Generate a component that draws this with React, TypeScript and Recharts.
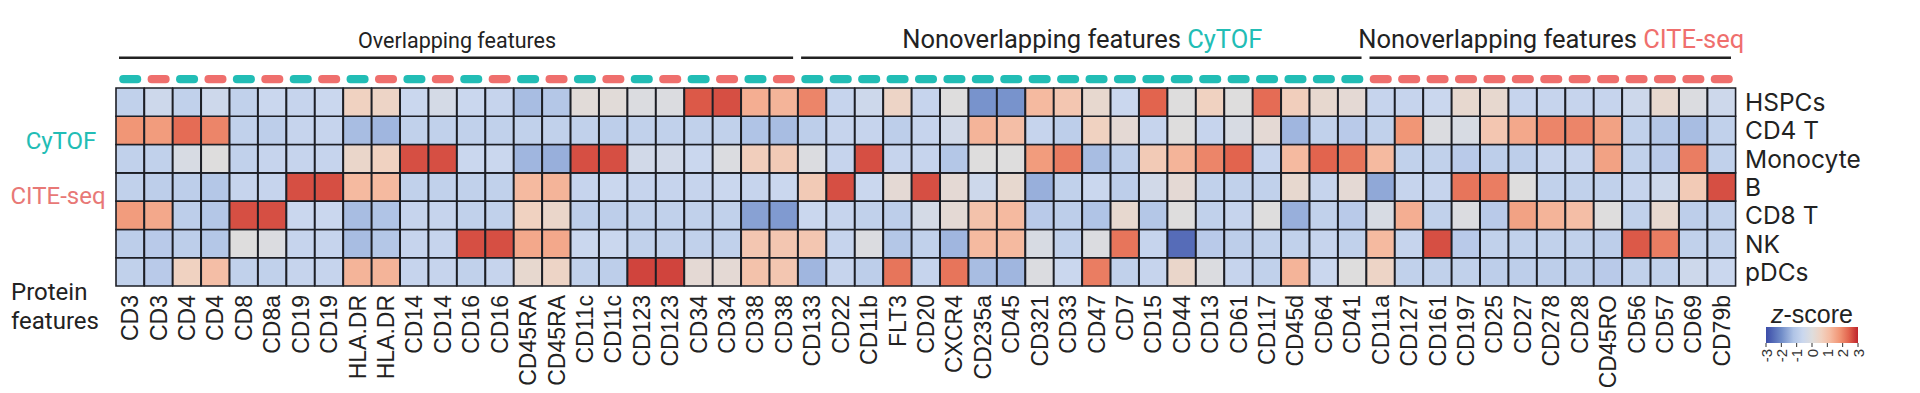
import React from 'react';
import { BarChart, Bar, XAxis, YAxis, Cell, ReferenceArea, Legend } from 'recharts';

// ---------- data ----------
const features = ['CD3','CD3','CD4','CD4','CD8','CD8a','CD19','CD19','HLA.DR','HLA.DR','CD14','CD14','CD16','CD16','CD45RA','CD45RA','CD11c','CD11c','CD123','CD123','CD34','CD34','CD38','CD38',
  'CD133','CD22','CD11b','FLT3','CD20','CXCR4','CD235a','CD45','CD321','CD33','CD47','CD7','CD15','CD44','CD13','CD61','CD117','CD45d','CD64','CD41',
  'CD11a','CD127','CD161','CD197','CD25','CD27','CD278','CD28','CD45RO','CD56','CD57','CD69','CD79b'];

const sources = [
  'CyTOF','CITE-seq','CyTOF','CITE-seq','CyTOF','CITE-seq','CyTOF','CITE-seq','CyTOF','CITE-seq','CyTOF','CITE-seq',
  'CyTOF','CITE-seq','CyTOF','CITE-seq','CyTOF','CITE-seq','CyTOF','CITE-seq','CyTOF','CITE-seq','CyTOF','CITE-seq',
  'CyTOF','CyTOF','CyTOF','CyTOF','CyTOF','CyTOF','CyTOF','CyTOF','CyTOF','CyTOF','CyTOF','CyTOF','CyTOF','CyTOF','CyTOF','CyTOF','CyTOF','CyTOF','CyTOF','CyTOF',
  'CITE-seq','CITE-seq','CITE-seq','CITE-seq','CITE-seq','CITE-seq','CITE-seq','CITE-seq','CITE-seq','CITE-seq','CITE-seq','CITE-seq','CITE-seq'];

const rowLabels = ['HSPCs', 'CD4 T', 'Monocyte', 'B', 'CD8 T', 'NK', 'pDCs'];

const hspcs = [-0.8,-0.5,-0.8,-0.5,-0.8,-0.6,-0.7,-0.6,0.6,0.5, -0.6,-0.3,-0.6,-0.7,-1.3,-1.1,0.1,0.1,-0.1,-0.1, 2.5,2.6,1.4,1.3,2.0,-0.7,-0.5,0.5,-0.7,0.0, -1.9,-1.9,1.2,0.9,0.3,-0.6,2.4,0.0,0.6,0.0, 2.3,0.7,0.3,0.2,-0.7,-0.7,-0.6,0.3,0.3,-0.7, -0.7,-0.7,-0.7,-0.5,0.3,-0.1,-0.5];
const cd4t = [1.8,1.7,2.3,2.0,-0.8,-0.9,-0.7,-0.7,-1.3,-1.4, -0.8,-0.8,-0.8,-0.8,-0.8,-0.8,-0.8,-0.9,-0.8,-0.8, -0.8,-0.8,-1.2,-1.3,-0.9,-0.7,-0.7,-0.9,-0.7,-0.4, 1.3,1.1,-0.7,-0.9,0.6,0.2,-0.7,0.0,-0.7,-0.2, 0.2,-1.4,-0.8,-1.0,-0.8,1.8,-0.1,-0.2,0.9,1.5, 2.0,2.0,1.6,-0.8,-1.1,-1.3,-0.8];
const monocyte = [-0.8,-0.8,-0.2,0.0,-0.8,-0.7,-0.7,-0.7,0.4,0.6, 2.6,2.6,-0.6,-0.6,-1.4,-1.5,2.6,2.6,-0.4,-0.4, -0.6,-0.1,0.7,0.8,-0.1,-0.7,2.6,-0.7,-0.7,-1.1, 0.0,0.0,1.7,2.1,-1.3,-0.9,0.8,1.3,2.0,2.4, -0.7,1.2,2.4,2.2,1.2,-0.8,-0.8,-1.0,-0.9,-0.9, -0.7,-0.7,1.6,-0.8,-1.0,2.1,-0.8];
const bCells = [-0.8,-0.9,-0.9,-1.1,-0.7,-0.7,2.6,2.6,1.2,1.2, -0.8,-0.8,-0.8,-0.8,1.2,1.3,-0.7,-0.6,-0.7,-0.7, -0.7,-0.6,-0.7,-0.6,0.8,2.6,-0.6,0.2,2.6,0.2, -0.5,0.3,-1.5,-0.8,-0.6,-0.9,-0.4,0.2,-0.8,-0.8, -0.8,0.3,-0.7,0.2,-1.6,-0.7,-0.7,2.2,2.1,0.0, -0.8,-0.8,-0.8,-0.7,-0.5,0.8,2.6];
const cd8t = [1.7,1.5,-0.9,-1.1,2.6,2.6,-0.6,-0.6,-1.3,-1.2, -0.7,-0.7,-0.8,-0.8,0.6,0.4,-0.9,-0.9,-0.8,-0.8, -0.8,-0.8,-1.7,-1.8,-0.6,-0.7,-0.8,-0.9,-0.3,0.2, 1.0,1.2,-1.0,-0.9,-1.2,0.3,-1.1,0.0,-0.8,-0.7, 0.0,-1.5,-0.8,-1.0,-0.2,1.4,-0.8,-0.1,-1.0,1.6, 1.3,1.1,0.0,-0.8,0.3,-0.9,-0.8];
const nk = [-0.9,-1.0,-0.9,-1.1,0.0,-0.1,-0.7,-0.7,-1.3,-1.1, -0.7,-0.7,2.6,2.6,1.5,1.5,-0.6,-0.6,-0.8,-0.8, -0.8,-0.8,0.9,0.9,0.9,-0.7,-0.1,-1.1,-0.8,-1.4, 1.2,1.2,-0.2,-0.8,-0.1,2.2,-0.7,-2.5,-1.0,-0.9, -0.8,-0.8,-0.7,-0.8,1.2,-0.7,2.6,-1.0,-0.8,-0.8, -0.8,-0.8,-0.9,2.5,2.1,-0.8,-0.8];
const pdcs = [-0.8,-1.0,0.6,1.1,-0.8,-0.8,-0.7,-0.7,1.3,1.3, -0.7,-0.7,-0.8,-0.7,0.3,0.5,-0.8,-0.9,2.7,2.7, 0.2,0.2,1.0,0.9,-1.4,-0.7,-0.9,2.2,-0.7,2.2, -1.3,-1.4,-0.1,-0.6,2.1,-0.8,-0.7,0.4,-0.1,-0.7, -0.8,1.3,-0.6,0.0,0.5,-0.8,-0.8,-0.8,-0.9,-0.9, -0.9,-0.9,-1.0,-0.8,-0.8,-0.5,-0.6];

const groupTitles = ['Overlapping features', 'Nonoverlapping features ', 'Nonoverlapping features '];
const groupHighlights = ['', 'CyTOF', 'CITE-seq'];
const groupStart = [0, 24, 44];
const groupEnd = [23, 43, 56];

const colorbarTicks = [-3, -2, -1, 0, 1, 2, 3];

// ---------- colours ----------
const CYTOF = '#22bdb5';
const CITE = '#ef6f6d';
const sourceColor: Record<string, string> = { 'CyTOF': CYTOF, 'CITE-seq': CITE };

const zStops = [-3, -2, -1.2, -0.6, 0, 0.6, 1.2, 1.8, 2.4, 3];
const zRGB = [
  [59, 76, 168], [112, 140, 200], [176, 196, 230], [202, 215, 238], [222, 221, 221],
  [240, 210, 193], [245, 186, 160], [241, 150, 118], [226, 100, 78], [190, 36, 44],
];
function zColor(v: number): string {
  const z = Math.max(-3, Math.min(3, v));
  let i = 0;
  while (i < zStops.length - 2 && z > zStops[i + 1]) i++;
  const t = (z - zStops[i]) / (zStops[i + 1] - zStops[i]);
  const c = zRGB[i].map((a, k) => Math.round(a + (zRGB[i + 1][k] - a) * t));
  return `rgb(${c[0]},${c[1]},${c[2]})`;
}

// rows stacked bottom -> top
const stackRows = [
  { key: 'pdcs', values: pdcs },
  { key: 'nk', values: nk },
  { key: 'cd8t', values: cd8t },
  { key: 'b', values: bCells },
  { key: 'monocyte', values: monocyte },
  { key: 'cd4t', values: cd4t },
  { key: 'hspcs', values: hspcs },
];

const data = features.map((f, i) => {
  const d: Record<string, number | string> = { key: i, feature: f };
  stackRows.forEach((r) => { d['u_' + r.key] = 1; });
  return d;
});

const LABEL_FONT = '"Liberation Sans", Arial, sans-serif';
const TITLE_FONT = 'Roboto, "Noto Sans", sans-serif';
const ROW_FONT = 'Inter, "Liberation Sans", sans-serif';

const XTick = (props: any) => {
  const { x, y, payload } = props;
  return (
    <text transform={`translate(${x},${y + 9}) rotate(-90)`} textAnchor="end" dominantBaseline="central"
      fontFamily={LABEL_FONT} fontSize={23} fill="#222">
      {features[payload.value]}
    </text>
  );
};

const YTick = (props: any) => {
  const { x, y, payload } = props;
  const idx = 6 - Math.floor(payload.value);
  return (
    <text x={x + 9} y={y} dominantBaseline="central" fontFamily={ROW_FONT} fontSize={24.5} fill="#222">
      {rowLabels[idx]}
    </text>
  );
};

const ColorBar = () => {
  const w = 92;
  const x0 = 24;
  return (
    <svg width={140} height={92} style={{ display: 'block', overflow: 'visible' }}>
      <defs>
        <linearGradient id="zgrad" x1="0" x2="1" y1="0" y2="0">
          {zStops.map((s, i) => (
            <stop key={i} offset={`${((s + 3) / 6) * 100}%`} stopColor={zColor(s)} />
          ))}
        </linearGradient>
      </defs>
      <text x={x0 + w / 2} y={23} textAnchor="middle" fontFamily={LABEL_FONT} fontSize={25} fill="#222">
        <tspan fontStyle="italic">z</tspan>-score
      </text>
      <rect x={x0} y={27} width={w} height={16} fill="url(#zgrad)" />
      {colorbarTicks.map((t) => {
        const tx = x0 + ((t + 3) / 6) * w;
        return (
          <g key={t}>
            <line x1={tx} x2={tx} y1={43} y2={47} stroke="#333" strokeWidth={1} />
            <text transform={`translate(${tx},${49}) rotate(-90)`} textAnchor="end" dominantBaseline="central"
              fontFamily={LABEL_FONT} fontSize={15} fill="#333">{t < 0 ? `-${-t}` : `${t}`}</text>
          </g>
        );
      })}
    </svg>
  );
};

export default function App() {
  return (
    <div style={{ position: 'absolute', left: 0, top: 0, width: 1920, height: 393, background: '#fff' }}>
      <BarChart width={1920} height={393} data={data} barCategoryGap={0} barGap={0}
        margin={{ top: 88, right: 34, bottom: 0, left: 116 }}>
        <XAxis xAxisId="b" dataKey="key" type="category" interval={0} height={107} tickSize={0} tickMargin={0}
          axisLine={false} tickLine={false} tick={<XTick />} />
        <YAxis yAxisId="r" orientation="right" type="number" domain={[0, 7]} ticks={[0.5, 1.5, 2.5, 3.5, 4.5, 5.5, 6.5]}
          width={150} tickSize={0} tickMargin={0} axisLine={false} tickLine={false} tick={<YTick />} />
        {stackRows.map((r) => (
          <Bar key={r.key} xAxisId="b" yAxisId="r" dataKey={'u_' + r.key} stackId="heat" isAnimationActive={false}
            stroke="#1d1f26" strokeWidth={1.6}>
            {r.values.map((v, i) => <Cell key={i} fill={zColor(v)} />)}
          </Bar>
        ))}
        {features.map((f, i) => (
          <ReferenceArea key={'pill' + i} xAxisId="b" yAxisId="r" x1={i} x2={i} y1={7.17} y2={7.46}
            ifOverflow="visible" isAnimationActive={false}
            shape={(p: any) => (
              <rect x={p.x + 3.2} y={p.y} width={p.width - 6.4} height={p.height} rx={4} ry={4}
                fill={sourceColor[sources[i]]} />
            )} />
        ))}
        {groupTitles.map((g, gi) => (
          <ReferenceArea key={'grp' + gi} xAxisId="b" yAxisId="r" x1={groupStart[gi]} x2={groupEnd[gi]} y1={7.9} y2={8.07}
            ifOverflow="visible"
            shape={(p: any) => (
              <g>
                <line x1={p.x + 3} x2={p.x + p.width - 5} y1={p.y} y2={p.y} stroke="#222" strokeWidth={2.6} />
                <text x={p.x + p.width / 2} y={p.y - 10} textAnchor="middle" fontFamily={TITLE_FONT}
                  fontSize={gi === 0 ? 21.5 : 25.5} fill="#222">
                  {g}
                  {groupHighlights[gi] ? <tspan fill={gi === 1 ? CYTOF : CITE}>{groupHighlights[gi]}</tspan> : null}
                </text>
              </g>
            )} />
        ))}
        <Legend layout="horizontal" verticalAlign="middle" align="center" content={() => <ColorBar />}
          wrapperStyle={{ left: 1742, top: 300, width: 140, height: 92 }} />
      </BarChart>
      <div style={{ position: 'absolute', left: 4, top: 126, width: 114, textAlign: 'center', fontFamily: TITLE_FONT,
        fontSize: 24, lineHeight: '30px', color: CYTOF }}>CyTOF</div>
      <div style={{ position: 'absolute', left: 0, top: 181, width: 116, textAlign: 'center', fontFamily: TITLE_FONT,
        fontSize: 24, lineHeight: '30px', color: '#e87876' }}>CITE-seq</div>
      <div style={{ position: 'absolute', left: 11, top: 278, fontFamily: TITLE_FONT,
        fontSize: 24, lineHeight: '29px', color: '#222' }}>Protein<br />features</div>
    </div>
  );
}
